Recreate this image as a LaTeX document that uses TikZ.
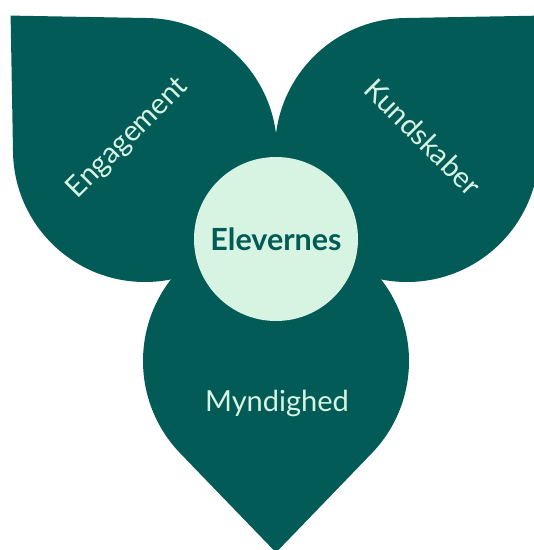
\documentclass[tikz,border=0pt]{standalone}
\usepackage{fontspec}
\setmainfont{Lato}
\usetikzlibrary{calc,positioning}
\definecolor{leafgreen}{HTML}{025B56}
\definecolor{mint}{HTML}{D7F3E1}

% one leaf: centre, direction of the tip, radius
\newcommand{\drawleaf}[3]{%
  \fill[leafgreen] ($(#1)+(#2:1.44*#3)$) -- ($(#1)+(#2+46:#3)$)
    arc[start angle=#2+46, end angle=#2+314, radius=#3] -- cycle;}

\begin{document}
\begin{tikzpicture}[x=1pt,y=1pt,
    leaftext/.style={text=mint,font=\fontsize{29}{34}\selectfont},
    hub/.style={circle,fill=mint,text=leafgreen,minimum size=164pt,inner sep=0pt,
                font=\fontsize{30.5}{36}\selectfont\bfseries}]
\useasboundingbox (0,0) rectangle (534,550);

\coordinate (lc) at (145,400);
\coordinate (rc) at (407,400);
\coordinate (bc) at (276,189);

\drawleaf{lc}{135}{132}
\drawleaf{rc}{45}{132}
\drawleaf{bc}{270}{133}

\node[hub] (elev) at (276,311) {Elevernes};

\begin{scope}[every node/.style={leaftext}]
    \node[rotate=45]  (eng)  at (128,412) {Engagement};
    \node[rotate=-45] (kund) at (423,413) {Kundskaber};
    \node             (mynd) at (277,147) {Myndighed};
\end{scope}
\end{tikzpicture}
\end{document}
